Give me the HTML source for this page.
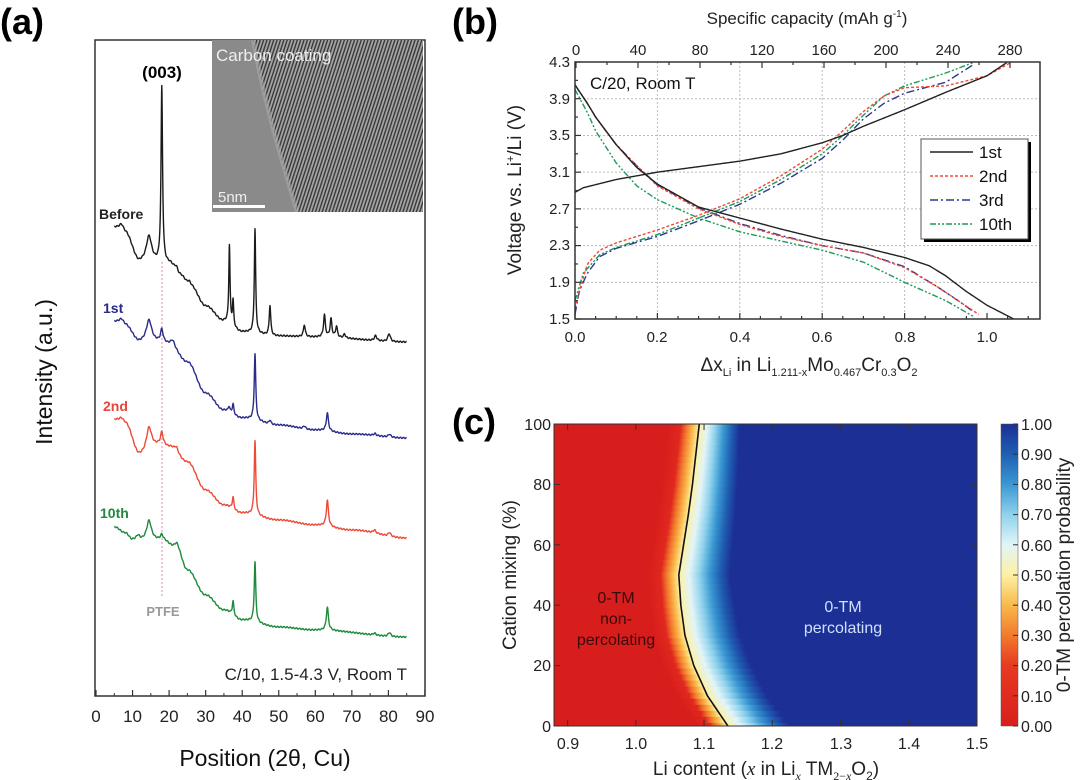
<!DOCTYPE html>
<html><head><meta charset="utf-8"><style>
html,body{margin:0;padding:0;background:#fff;}
svg{display:block;font-family:"Liberation Sans",Arial,sans-serif;}
</style></head><body>
<svg id="s" width="1080" height="780" viewBox="0 0 1080 780" xmlns="http://www.w3.org/2000/svg">
<defs>
<pattern id="stripes" patternUnits="userSpaceOnUse" width="3.2" height="3.2" patternTransform="rotate(18)">
<rect width="3.2" height="3.2" fill="#a4a4a4"/><rect width="1.4" height="3.2" fill="#3a3a3a"/>
</pattern>
<linearGradient id="cb" x1="0" y1="1" x2="0" y2="0">
<stop offset="0" stop-color="#d81e1c"/><stop offset="0.2" stop-color="#e63a22"/><stop offset="0.3" stop-color="#f27a2c"/><stop offset="0.4" stop-color="#f9b94c"/><stop offset="0.5" stop-color="#fdf1a4"/><stop offset="0.6" stop-color="#e2f4f8"/><stop offset="0.7" stop-color="#8fd2ec"/><stop offset="0.8" stop-color="#3a98d2"/><stop offset="0.9" stop-color="#1f5fb2"/><stop offset="1" stop-color="#1c2f95"/>
</linearGradient>
<clipPath id="cc"><rect x="554" y="424" width="423" height="302"/></clipPath>
<clipPath id="ins"><rect x="212" y="40" width="211" height="172"/></clipPath>
</defs>

<text x="0" y="34" font-size="36" font-weight="bold">(a)</text>
<text x="452" y="34" font-size="36" font-weight="bold">(b)</text>
<text x="452" y="434" font-size="36" font-weight="bold">(c)</text>

<g id="pa">
<rect x="95" y="40" width="330" height="656" fill="none" stroke="#333" stroke-width="1.5"/>
<g clip-path="url(#ins)">
<rect x="212" y="40" width="211" height="172" fill="#8a8a8a"/>
<path d="M253,40 C262,90 275,140 297,212 L423,212 L423,40 Z" fill="url(#stripes)"/>
<path d="M253,40 C262,90 275,140 297,212" fill="none" stroke="#a8a8a8" stroke-width="4" opacity="0.6"/>
</g>
<text x="216" y="61" font-size="17" fill="#eee">Carbon coating</text>
<text x="218" y="202" font-size="15" fill="#eee">5nm</text>
<rect x="213" y="205" width="52" height="3" fill="#fff"/>
<line x1="162" y1="262" x2="162" y2="598" stroke="#e58aa8" stroke-width="1" stroke-dasharray="2,2"/>
<text x="163" y="616" font-size="13" font-weight="bold" fill="#999" text-anchor="middle">PTFE</text>
<text x="162" y="78" font-size="17" font-weight="bold" text-anchor="middle">(003)</text>
<text x="99" y="219" font-size="14" font-weight="bold" fill="#222">Before</text>
<text x="103" y="313" font-size="14" font-weight="bold" fill="#2a2a8a">1st</text>
<text x="103" y="411" font-size="14" font-weight="bold" fill="#e8453a">2nd</text>
<text x="100" y="518" font-size="14" font-weight="bold" fill="#1d8a3c">10th</text>
<text x="407" y="680" font-size="17" text-anchor="end" fill="#222">C/10, 1.5-4.3 V, Room T</text>
<g id="axa" font-size="17" fill="#222" text-anchor="middle"></g>
<text x="265" y="766" font-size="23" text-anchor="middle" fill="#111">Position (2θ, Cu)</text>
<text transform="translate(52,372) rotate(-90)" font-size="23" text-anchor="middle" fill="#111">Intensity (a.u.)</text>
</g>

<g id="pb">
<g id="gridb" stroke="#bbb" stroke-width="1" stroke-dasharray="2,2"></g>
<g id="curvesb" fill="none" stroke-width="1.4"></g>
<rect x="575" y="62" width="465" height="257" fill="none" stroke="#333" stroke-width="1.5"/>
<g id="ticksb" stroke="#333" stroke-width="1.2"></g>
<g font-size="15" fill="#222" text-anchor="end">
<text x="570" y="67">4.3</text><text x="570" y="104">3.9</text><text x="570" y="140">3.5</text><text x="570" y="177">3.1</text><text x="570" y="214">2.7</text><text x="570" y="250">2.3</text><text x="570" y="287">1.9</text><text x="570" y="324">1.5</text>
</g>
<g font-size="15" fill="#222" text-anchor="middle">
<text x="575" y="342">0.0</text><text x="657" y="342">0.2</text><text x="740" y="342">0.4</text><text x="822" y="342">0.6</text><text x="905" y="342">0.8</text><text x="987" y="342">1.0</text>
<text x="576" y="55">0</text><text x="638" y="55">40</text><text x="700" y="55">80</text><text x="762" y="55">120</text><text x="824" y="55">160</text><text x="886" y="55">200</text><text x="948" y="55">240</text><text x="1010" y="55">280</text>
</g>
<text x="807" y="24" font-size="17" text-anchor="middle" fill="#222">Specific capacity (mAh g<tspan font-size="10" dy="-7">-1</tspan><tspan dy="7">)</tspan></text>
<text x="590" y="89" font-size="17" fill="#111">C/20, Room T</text>
<text transform="translate(521,190) rotate(-90)" font-size="19" text-anchor="middle" fill="#222">Voltage vs. Li<tspan font-size="11" dy="-7">+</tspan><tspan dy="7">/Li (V)</tspan></text>
<text x="809" y="371" font-size="19" text-anchor="middle" fill="#222">Δx<tspan font-size="11" dy="5">Li</tspan><tspan dy="-5"> in Li</tspan><tspan font-size="11" dy="5">1.211-x</tspan><tspan dy="-5">Mo</tspan><tspan font-size="11" dy="5">0.467</tspan><tspan dy="-5">Cr</tspan><tspan font-size="11" dy="5">0.3</tspan><tspan dy="-5">O</tspan><tspan font-size="11" dy="5">2</tspan></text>
<rect x="924" y="142" width="107" height="100" fill="#000"/>
<rect x="921" y="139" width="107" height="100" fill="#fff" stroke="#555" stroke-width="1"/>
<g fill="none" stroke-width="1.4">
<line x1="930" y1="152" x2="973" y2="152" stroke="#222"/>
<line x1="930" y1="176" x2="973" y2="176" stroke="#f04a3a" stroke-dasharray="3,2"/>
<line x1="930" y1="200" x2="973" y2="200" stroke="#2b3a8f" stroke-dasharray="8,3,2,3"/>
<line x1="930" y1="224" x2="973" y2="224" stroke="#1d9a5a" stroke-dasharray="6,2,2,2,2,2"/>
</g>
<g font-size="17" fill="#111">
<text x="979" y="158">1st</text><text x="979" y="182">2nd</text><text x="979" y="206">3rd</text><text x="979" y="230">10th</text>
</g>
</g>

<g id="pc">
<g id="heat" clip-path="url(#cc)"><rect x="554" y="424" width="423" height="302" fill="#1c2f95"/></g>
<path id="contour" fill="none" stroke="#111" stroke-width="1.6"/>
<rect x="554" y="424" width="423" height="302" fill="none" stroke="#333" stroke-width="1"/>
<g id="ticksc" stroke="#333" stroke-width="1"></g>
<text x="616" y="603" font-size="16" text-anchor="middle" fill="#3a0a0a">0-TM</text>
<text x="616" y="624" font-size="16" text-anchor="middle" fill="#3a0a0a">non-</text>
<text x="616" y="645" font-size="16" text-anchor="middle" fill="#3a0a0a">percolating</text>
<text x="843" y="612" font-size="16" text-anchor="middle" fill="#cfe0ff">0-TM</text>
<text x="843" y="633" font-size="16" text-anchor="middle" fill="#cfe0ff">percolating</text>
<g font-size="16" fill="#222" text-anchor="end">
<text x="551" y="430">100</text><text x="551" y="490">80</text><text x="551" y="551">60</text><text x="551" y="611">40</text><text x="551" y="671">20</text><text x="551" y="732">0</text>
</g>
<g font-size="16" fill="#222" text-anchor="middle">
<text x="568" y="749">0.9</text><text x="636" y="749">1.0</text><text x="704" y="749">1.1</text><text x="772" y="749">1.2</text><text x="841" y="749">1.3</text><text x="909" y="749">1.4</text><text x="977" y="749">1.5</text>
</g>
<text transform="translate(516,575) rotate(-90)" font-size="19" text-anchor="middle" fill="#222">Cation mixing (%)</text>
<text x="766" y="775" font-size="19" text-anchor="middle" fill="#222">Li content (<tspan font-family="Liberation Serif" font-style="italic">x</tspan> in Li<tspan font-size="12" dy="5" font-family="Liberation Serif" font-style="italic">x</tspan><tspan dy="-5"> TM</tspan><tspan font-size="12" dy="5" font-family="Liberation Serif">2−</tspan><tspan font-size="12" font-family="Liberation Serif" font-style="italic">x</tspan><tspan dy="-5">O</tspan><tspan font-size="12" dy="5">2</tspan><tspan dy="-5">)</tspan></text>
<rect x="1001" y="424" width="17" height="302" fill="url(#cb)" stroke="#555" stroke-width="0.5"/>
<g id="cbt" stroke="#333" stroke-width="1"></g>
<g font-size="16" fill="#222">
<text x="1021" y="430">1.00</text><text x="1021" y="460">0.90</text><text x="1021" y="490">0.80</text><text x="1021" y="520">0.70</text><text x="1021" y="551">0.60</text><text x="1021" y="581">0.50</text><text x="1021" y="611">0.40</text><text x="1021" y="641">0.30</text><text x="1021" y="671">0.20</text><text x="1021" y="702">0.10</text><text x="1021" y="732">0.00</text>
</g>
<text transform="translate(1070,575) rotate(-90)" font-size="19" text-anchor="middle" fill="#222">0-TM percolation probability</text>
</g>
</svg>
<script>
(function(){
var NS="http://www.w3.org/2000/svg";
function el(tag,attrs,parent){var e=document.createElementNS(NS,tag);for(var k in attrs)e.setAttribute(k,attrs[k]);(parent||document.getElementById('s')).appendChild(e);return e;}
function interp(pts,x){if(x<=pts[0][0])return pts[0][1];for(var i=1;i<pts.length;i++){if(x<=pts[i][0]){var a=pts[i-1],b=pts[i];var t=(x-a[0])/(b[0]-a[0]);return a[1]+t*(b[1]-a[1]);}}return pts[pts.length-1][1];}
function sinterp(pts,x){if(x<=pts[0][0])return pts[0][1];for(var i=1;i<pts.length;i++){if(x<=pts[i][0]){var a=pts[i-1],b=pts[i];var t=(x-a[0])/(b[0]-a[0]);t=(1-Math.cos(Math.PI*t))/2;return a[1]+t*(b[1]-a[1]);}}return pts[pts.length-1][1];}
var pa=document.getElementById('pa');
function X(th){return 96+th*3.655;}
var traces=[
 {c:"#1a1a1a",bg:[[5,228],[8,234],[12,262],[20,264],[23,276],[26,287],[30,306],[35,321],[40,332],[50,336],[60,337],[85,342]],
  pk:[[7,8,0.8],[14.5,26,0.9],[18,176,0.25],[22,6,0.6],[25.5,5,0.6],[36.5,78,0.2],[37.5,25,0.2],[43.5,104,0.22],[47.6,30,0.25],[57,12,0.3],[62.5,22,0.3],[64.3,18,0.3],[65.8,11,0.3],[68,4,0.3],[76.5,5,0.4],[80.2,8,0.4]]},
 {c:"#2a2a8a",bg:[[5,322],[8,326],[12,342],[18,342],[20,344],[25,362],[30,393],[35,410],[40,418],[50,425],[60,430],[70,434],[85,438]],
  pk:[[7,6,0.8],[14.5,22,0.9],[18,12,0.4],[21,5,0.6],[36.4,5,0.25],[37.5,10,0.25],[43.5,66,0.25],[47.6,4,0.3],[57,3,0.4],[63.3,18,0.35],[76.3,2,0.4],[80.3,3,0.4]]},
 {c:"#ec4a38",bg:[[5,420],[8,424],[12,455],[18,445],[20,447],[25,462],[30,490],[35,505],[40,513],[50,520],[60,525],[70,530],[85,538]],
  pk:[[7,5,0.8],[14.5,24,0.9],[18,12,0.4],[22,5,0.6],[37.5,12,0.25],[43.5,74,0.25],[63.3,26,0.35],[76.2,3,0.4],[80.3,4,0.4]]},
 {c:"#1d8a3c",bg:[[5,527],[8,533],[10,540],[12,541],[18,540],[22,548],[25,570],[30,595],[35,610],[40,620],[50,627],[60,630],[85,637]],
  pk:[[11.5,5,0.6],[14.5,20,0.8],[18,5,0.4],[22,5,0.7],[37.5,14,0.25],[43.5,60,0.25],[63.3,23,0.35],[76.2,2,0.4],[80.3,4,0.4]]}
];
traces.forEach(function(t){
 var d="";
 for(var th=5;th<=85;th+=0.05){
  var y=sinterp(t.bg,th);
  t.pk.forEach(function(p){var z=(th-p[0])/p[2];y-=p[1]/(1+z*z);});
  y+=Math.sin(th*7.3)*0.6;
  d+=(d?"L":"M")+X(th).toFixed(2)+","+y.toFixed(2);
 }
 el('path',{d:d,fill:"none",stroke:t.c,"stroke-width":1.4,"stroke-linejoin":"round"},pa);
});
var axa=document.getElementById('axa');
for(var v=0;v<=90;v+=10){el('line',{x1:X(v),y1:696,x2:X(v),y2:690,stroke:"#333","stroke-width":1.2},pa);
 if(v<90) el('line',{x1:X(v+5),y1:696,x2:X(v+5),y2:693,stroke:"#333","stroke-width":1},pa);
 var tx=el('text',{x:X(v),y:722},axa);tx.textContent=v;}
function BX(u){return 575+412*u;} function BY(v){return 62+(4.3-v)*91.8;}
var gb=document.getElementById('gridb');
[0.2,0.4,0.6,0.8].forEach(function(u){el('line',{x1:BX(u),y1:62,x2:BX(u),y2:319},gb);});
[3.9,3.5,3.1,2.7,2.3,1.9].forEach(function(v){el('line',{x1:575,y1:BY(v),x2:1040,y2:BY(v)},gb);});
var tb=document.getElementById('ticksb');
for(var u=0;u<=1.12;u+=0.05){var big=Math.abs(u*10-Math.round(u*10))<0.01&&Math.round(u*10)%2==0;
 el('line',{x1:BX(u),y1:319,x2:BX(u),y2:big?313:316},tb);}
for(var c=0;c<=300;c+=20){var xx=576+c*1.55;if(xx>1040)break;el('line',{x1:xx,y1:62,x2:xx,y2:(c%40==0)?68:65},tb);}
for(var v=1.5;v<=4.31;v+=0.2){var big2=Math.round((v-1.5)*10)%4==0;el('line',{x1:575,y1:BY(v),x2:big2?581:578,y2:BY(v)},tb);}
var cb=document.getElementById('curvesb');
function curve(pts,col,dash){var d="";var n=pts.length;
 for(var u=pts[0][0];u<=pts[n-1][0]+1e-9;u+=0.004){var v=interp(pts,u);d+=(d?"L":"M")+BX(u).toFixed(2)+","+BY(v).toFixed(2);}
 var a={d:d,stroke:col};if(dash)a["stroke-dasharray"]=dash;el('path',a,cb);}
var G="#1d9a5a",R="#f04a3a",B="#2b3a8f",K="#222";
curve([[0,1.7],[0.01,1.85],[0.02,2.0],[0.06,2.2],[0.1,2.28],[0.2,2.42],[0.3,2.6],[0.4,2.78],[0.5,3.02],[0.6,3.3],[0.65,3.5],[0.7,3.72],[0.75,3.93],[0.8,4.04],[0.9,4.18],[0.97,4.3]],G,"6,2,2,2,2,2");
curve([[0,4.0],[0.03,3.75],[0.05,3.55],[0.1,3.2],[0.15,2.95],[0.2,2.8],[0.3,2.6],[0.4,2.45],[0.5,2.35],[0.6,2.25],[0.7,2.12],[0.8,1.9],[0.9,1.7],[0.97,1.52]],G,"6,2,2,2,2,2");
curve([[0,1.55],[0.01,1.8],[0.03,2.0],[0.06,2.18],[0.1,2.27],[0.2,2.4],[0.3,2.57],[0.4,2.75],[0.5,2.98],[0.6,3.25],[0.65,3.45],[0.7,3.68],[0.75,3.85],[0.8,3.96],[0.9,4.08],[0.97,4.28]],B,"8,3,2,3");
curve([[0,4.05],[0.03,3.85],[0.05,3.7],[0.1,3.4],[0.15,3.17],[0.2,2.96],[0.3,2.71],[0.4,2.54],[0.5,2.41],[0.6,2.3],[0.7,2.22],[0.8,2.07],[0.88,1.85],[0.93,1.7],[0.97,1.57]],B,"8,3,2,3");
curve([[0,1.62],[0.01,1.8],[0.03,2.1],[0.06,2.25],[0.1,2.33],[0.2,2.47],[0.3,2.63],[0.4,2.81],[0.5,3.06],[0.6,3.35],[0.65,3.55],[0.7,3.76],[0.75,3.93],[0.8,4.02],[0.9,4.04],[1.0,4.15],[1.06,4.3]],R,"3,2");
curve([[0,4.05],[0.03,3.85],[0.05,3.7],[0.1,3.4],[0.15,3.17],[0.2,2.95],[0.3,2.7],[0.4,2.53],[0.5,2.4],[0.6,2.3],[0.7,2.22],[0.8,2.06],[0.88,1.85],[0.93,1.7],[0.98,1.55]],R,"3,2");
curve([[0,2.88],[0.02,2.93],[0.1,3.02],[0.2,3.1],[0.3,3.16],[0.4,3.22],[0.5,3.3],[0.6,3.42],[0.65,3.5],[0.7,3.6],[0.8,3.78],[0.9,3.97],[1.0,4.15],[1.05,4.3]],K,null);
curve([[0,4.05],[0.03,3.85],[0.05,3.7],[0.1,3.4],[0.15,3.15],[0.2,2.97],[0.3,2.72],[0.4,2.6],[0.5,2.48],[0.6,2.37],[0.7,2.28],[0.8,2.17],[0.86,2.08],[0.9,1.97],[0.95,1.8],[1.0,1.65],[1.065,1.5]],K,null);
function CX(x){return 554+(x-0.88)*682;} function CY(p){return 726-p*3.02;}
var cont=[[0,1.135],[10,1.105],[20,1.085],[30,1.072],[40,1.066],[50,1.063],[60,1.07],[70,1.077],[80,1.083],[90,1.088],[100,1.093]];
var defs=document.querySelector('defs');var heat=document.getElementById('heat');
var stops=[[0,"#d81e1c"],[0.2,"#e0281e"],[0.3,"#f27a2c"],[0.4,"#f9b94c"],[0.5,"#fdf1a4"],[0.6,"#e2f4f8"],[0.7,"#8fd2ec"],[0.8,"#3a98d2"],[0.9,"#1f5fb2"],[1,"#1c2f95"]];
for(var i=0;i<51;i++){
 var p=100-i*2; var y0=CY(p)-3.1; var c=interp(cont,p);
 var wl=0.045, wr=0.06+0.03*(1-p/100);
 var g=el('linearGradient',{id:"h"+i,gradientUnits:"userSpaceOnUse",x1:CX(c-wl),y1:0,x2:CX(c+wr),y2:0},defs);
 stops.forEach(function(s){var pos;if(s[0]<=0.5)pos=(s[0]/0.5)*wl/(wl+wr);else pos=(wl+(s[0]-0.5)/0.5*wr)/(wl+wr);
  el('stop',{offset:pos.toFixed(4),"stop-color":s[1]},g);});
 el('rect',{x:554,y:y0,width:423,height:6.4,fill:"url(#h"+i+")"},heat);
}
var d="";for(var p=0;p<=100;p+=2){d+=(d?"L":"M")+CX(interp(cont,p)).toFixed(2)+","+CY(p).toFixed(2);}
document.getElementById('contour').setAttribute('d',d);
var tc=document.getElementById('ticksc');
for(var x=0.9;x<=1.501;x+=0.1){el('line',{x1:CX(x),y1:726,x2:CX(x),y2:720},tc);el('line',{x1:CX(x),y1:424,x2:CX(x),y2:430},tc);}
for(var p=0;p<=100;p+=20){el('line',{x1:554,y1:CY(p),x2:560,y2:CY(p)},tc);el('line',{x1:977,y1:CY(p),x2:971,y2:CY(p)},tc);}
var cbt=document.getElementById('cbt');
for(var k=0;k<=10;k++){var yy=726-k*30.2;el('line',{x1:1013,y1:yy,x2:1018,y2:yy},cbt);}
})();
</script>
</body></html>
